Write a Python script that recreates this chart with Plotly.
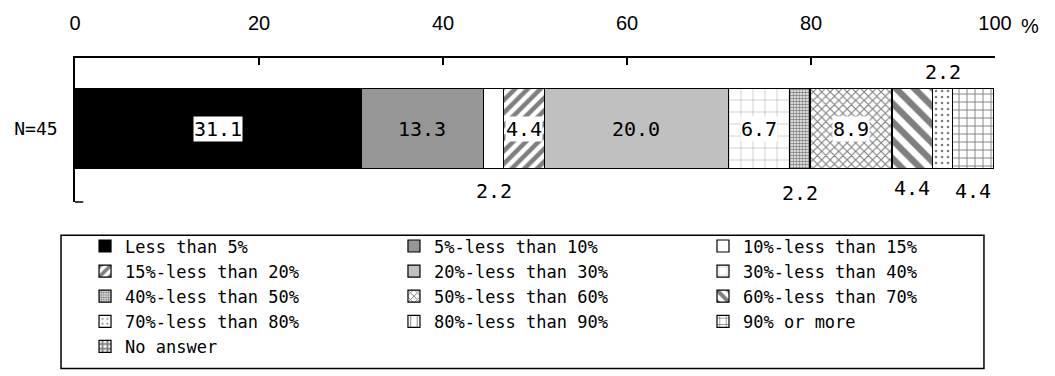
import plotly.graph_objects as go

categories = ["Less than 5%", "5%-less than 10%", "10%-less than 15%", "15%-less than 20%",
              "20%-less than 30%", "30%-less than 40%", "40%-less than 50%", "50%-less than 60%",
              "60%-less than 70%", "70%-less than 80%", "80%-less than 90%", "90% or more", "No answer"]
values = [31.1, 13.3, 2.2, 4.4, 20.0, 6.7, 2.2, 8.9, 4.4, 2.2, 0.0, 4.4, 0.0]
row_label = "N=45"
x_ticks = [0, 20, 40, 60, 80, 100]

# label placement per segment: in, box (inside w/ white bg), below, above, none
placement = ["box", "in", "below", "box", "in", "box", "below", "box", "below", "above", "none", "below", "none"]
label_shift = [0, 0, 8, 0, 0, 0, 10, 0, 5, 2, 0, 8, 0]

# styles
colors = ["#000000", "#969696", "#ffffff", "#ffffff", "#c0c0c0", "#ffffff", "#ffffff",
          "#ffffff", "#ffffff", "#ffffff", "#ffffff", "#ffffff", "#ffffff"]
patterns = [
    None, None, None,
    dict(shape="/", size=9, solidity=0.5, fgcolor="black", bgcolor="white"),
    None,
    dict(shape="+", size=12, solidity=0.08, fgcolor="#444444", bgcolor="white"),
    dict(shape=".", size=3, solidity=0.6, fgcolor="black", bgcolor="white"),
    dict(shape="x", size=6, solidity=0.35, fgcolor="black", bgcolor="white"),
    dict(shape="\\", size=13, solidity=0.5, fgcolor="black", bgcolor="white"),
    dict(shape=".", size=6, solidity=0.15, fgcolor="black", bgcolor="white"),
    dict(shape="|", size=8, solidity=0.15, fgcolor="black", bgcolor="white"),
    dict(shape="+", size=8, solidity=0.22, fgcolor="black", bgcolor="white"),
    dict(shape="+", size=6, solidity=0.6, fgcolor="black", bgcolor="white"),
]
legend_of = ["legend", "legend2", "legend3"]

MONO = "DejaVu Sans Mono, monospace"
SANS = "Liberation Sans, Arial, sans-serif"

fig = go.Figure()
for i, (cat, v) in enumerate(zip(categories, values)):
    marker = dict(color=colors[i], line=dict(color="black", width=1.2))
    if patterns[i]:
        marker["pattern"] = patterns[i]
    fig.add_trace(go.Bar(
        x=[v], y=[0], orientation="h", name=cat, marker=marker, width=1.116,
        legend=legend_of[i % 3], hoverinfo="name+x",
    ))

# value labels
cum = 0.0
for i, v in enumerate(values):
    mid = cum + v / 2
    cum += v
    p = placement[i]
    if p == "none":
        continue
    txt = f"{v:.1f}"
    font = dict(family=MONO, size=20, color="black")
    if p in ("in", "box"):
        fig.add_annotation(x=mid, y=0, xref="x", yref="y", text=txt, showarrow=False, font=font,
                           bgcolor="white" if p == "box" else "rgba(0,0,0,0)", borderpad=0)
    elif p == "below":
        fig.add_annotation(x=mid, y=-0.558, xref="x", yref="y", text=txt, showarrow=False, font=font,
                           yanchor="top", yshift=-label_shift[i])
    elif p == "above":
        fig.add_annotation(x=mid, y=0.558, xref="x", yref="y", text=txt, showarrow=False, font=font,
                           yanchor="bottom", yshift=label_shift[i])

fig.add_annotation(x=1.0385, y=1.2245, xref="paper", yref="paper", text="%", showarrow=False,
                   xanchor="center", yanchor="middle",
                   font=dict(family=SANS, size=20, color="black"))

# small tick at the bottom-left of the axis
fig.add_shape(type="line", xref="x", yref="paper", x0=0, x1=0.9, y0=0, y1=0,
              line=dict(color="black", width=1.5))

# legend box
fig.add_shape(type="rect", xref="paper", yref="paper", x0=-0.0152, x1=0.988, y0=-0.231, y1=-1.156,
              line=dict(color="black", width=1.5), fillcolor="rgba(0,0,0,0)")

leg_common = dict(orientation="v", yanchor="top", xanchor="left", y=-0.1837,
                  font=dict(family=MONO, size=17, color="black"), bgcolor="rgba(0,0,0,0)",
                  borderwidth=0, traceorder="normal", itemclick=False, itemdoubleclick=False)
fig.update_layout(
    barmode="stack",
    width=1055, height=376,
    margin=dict(l=75, r=60, t=55, b=174),
    plot_bgcolor="white", paper_bgcolor="white",
    showlegend=True,
    legend=dict(x=0.0109, **leg_common),
    legend2=dict(x=0.3467, **leg_common),
    legend3=dict(x=0.6826, **leg_common),
    xaxis=dict(side="top", range=[0, 100], tickvals=x_ticks, showgrid=False, zeroline=False,
               showline=True, linecolor="black", linewidth=1.5, ticks="inside", ticklen=7,
               tickwidth=1.5, tickcolor="black", ticklabelstandoff=18,
               tickfont=dict(family=SANS, size=20, color="black")),
    yaxis=dict(range=[-1.02, 0.98], tickvals=[0], ticktext=[row_label], showgrid=False, zeroline=False,
               showline=True, linecolor="black", linewidth=1.5, ticks="", ticklabelstandoff=12,
               tickfont=dict(family=MONO, size=18, color="black")),
)

fig.write_html("out.html")
